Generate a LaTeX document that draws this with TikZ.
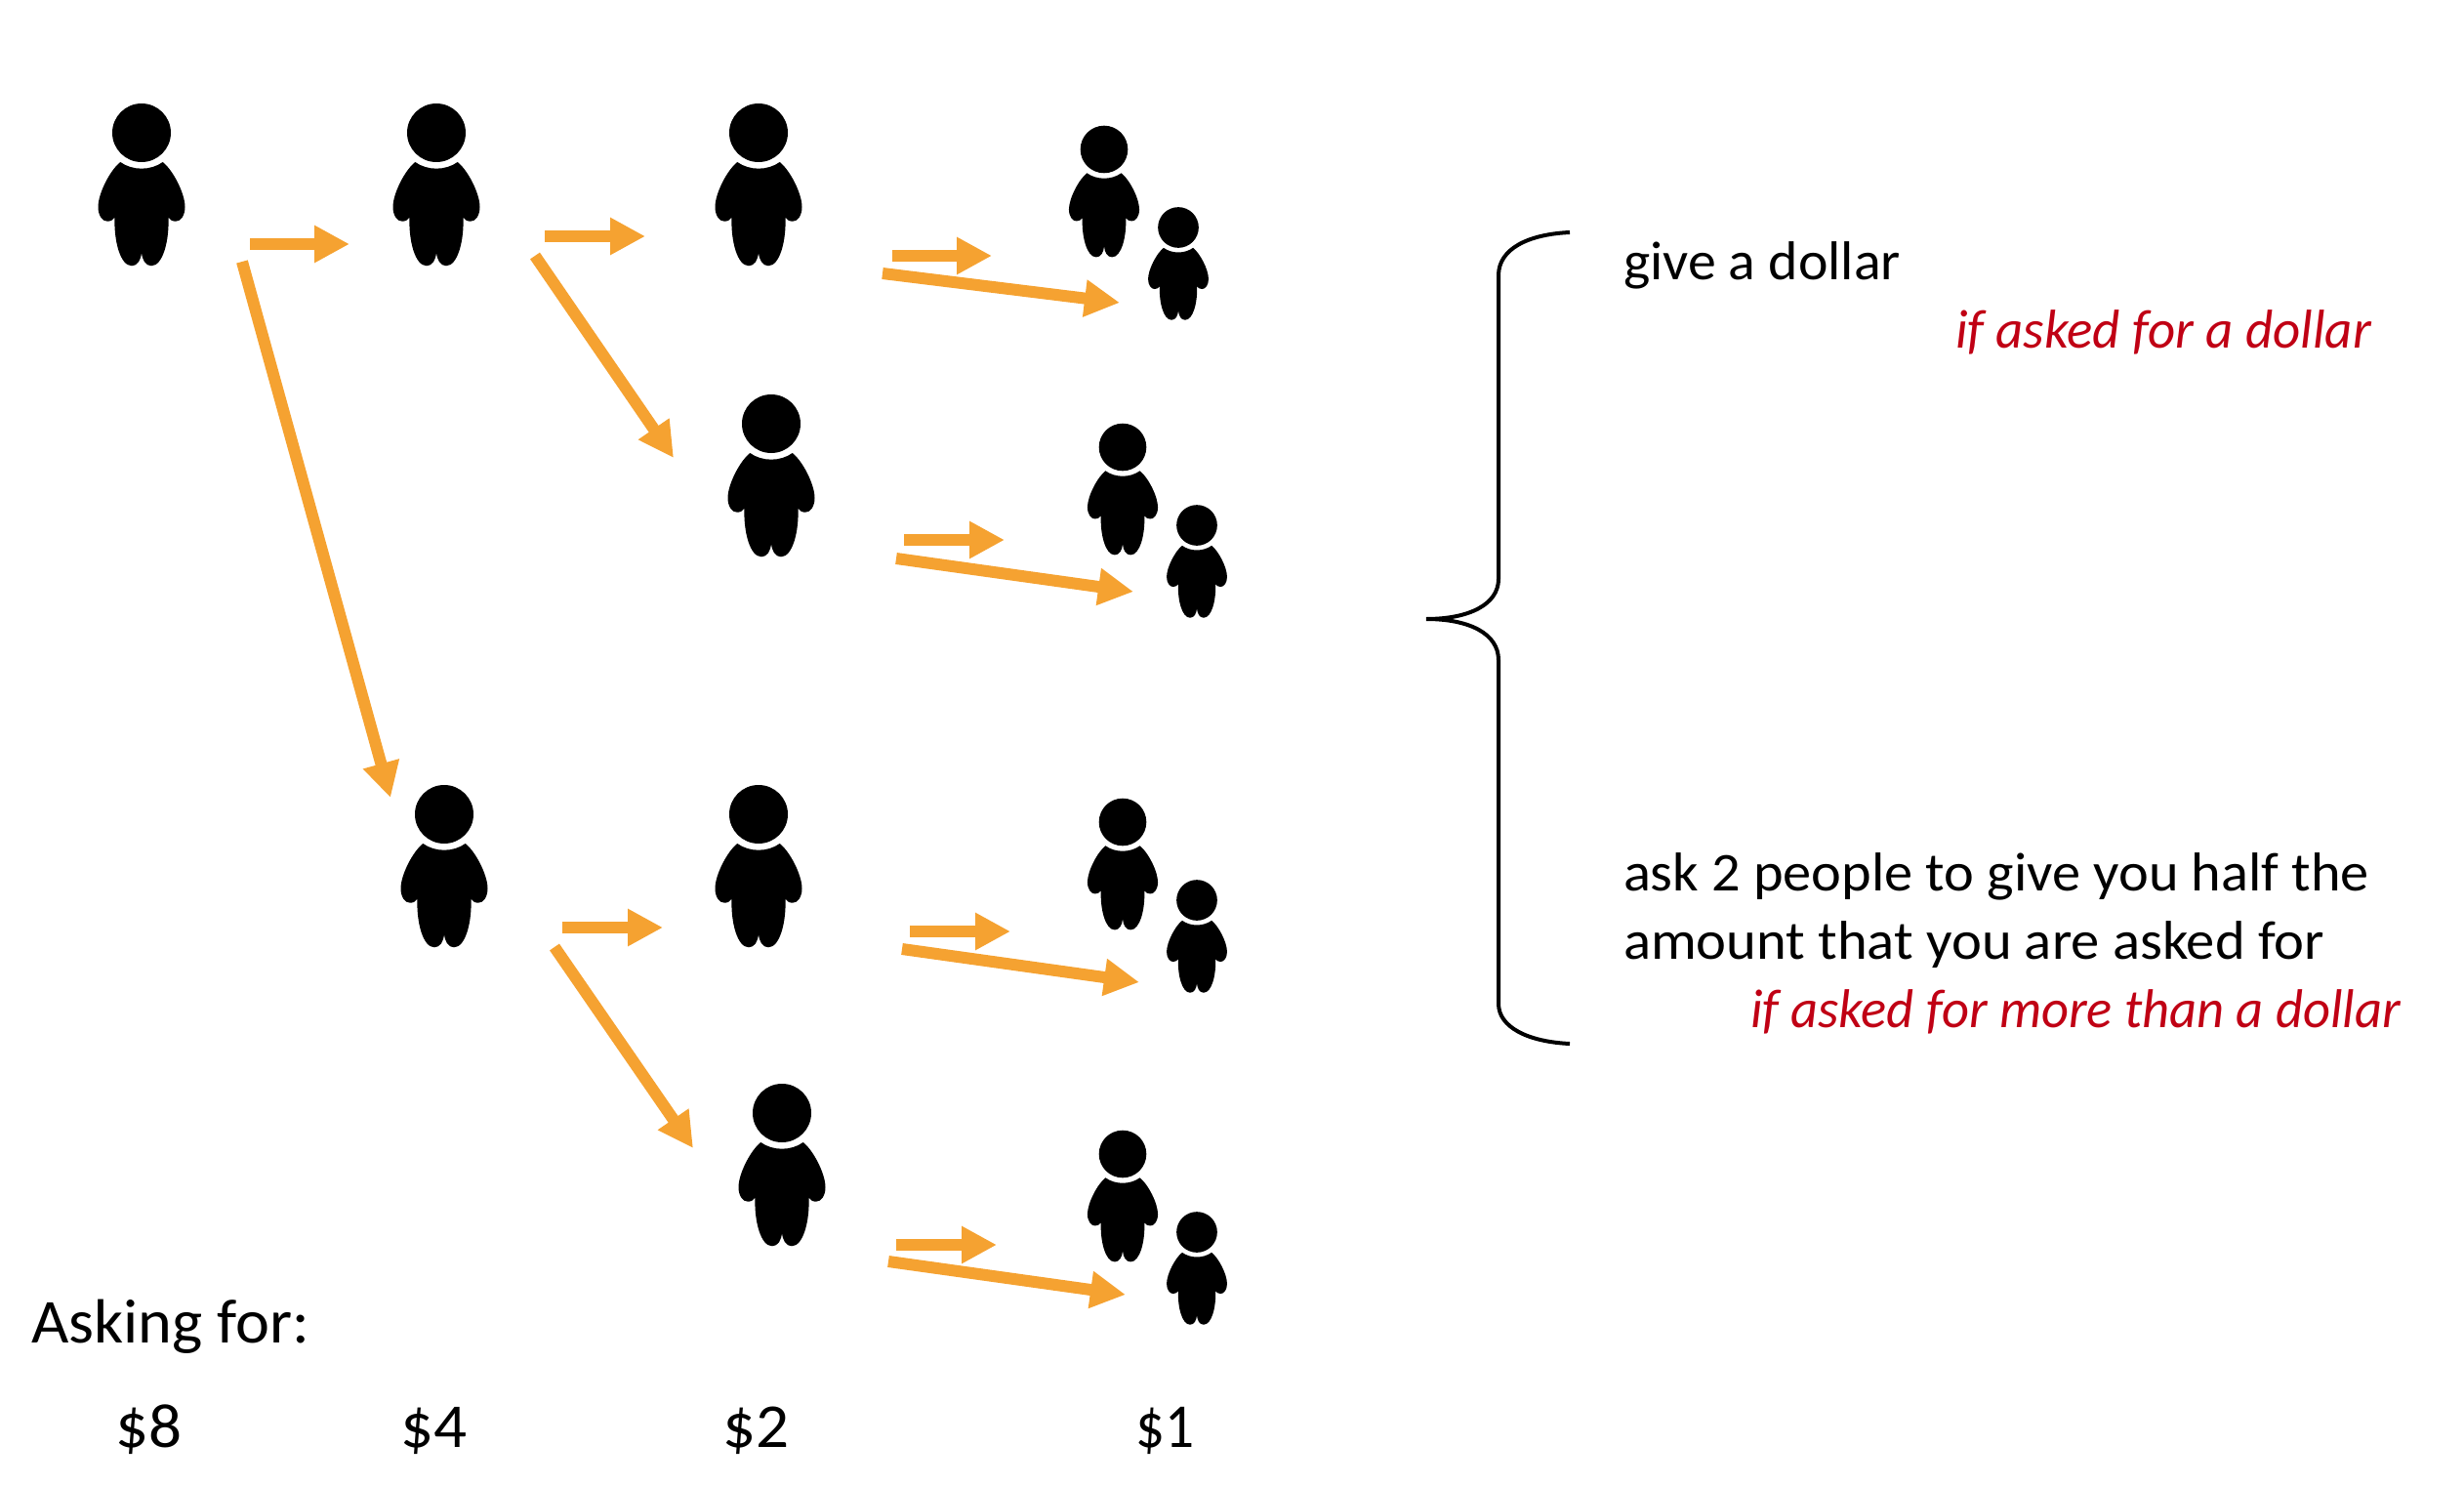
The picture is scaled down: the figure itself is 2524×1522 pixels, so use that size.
\documentclass[tikz,border=0pt]{standalone}
\usepackage{fontspec}
\usepackage{graphicx}
\setmainfont{Carlito}
\usetikzlibrary{arrows.meta}
\definecolor{arrowor}{HTML}{F5A231}
\definecolor{redtxt}{HTML}{C00014}
\newcommand{\fitw}[2]{\resizebox{#1pt}{\height}{#2}}
\tikzset{
  person/.pic={
    \fill[black] (0,0) circle (30);
    \fill[black] (21.7,30) .. controls (32,38) and (44.5,62) .. (44.5,76)
      .. controls (44.5,85) and (40,90.7) .. (35,90.7)
      .. controls (31,90.7) and (29,89) .. (27.5,86.5)
      .. controls (28.5,110) and (22,136.3) .. (10,136.3)
      .. controls (4,136.3) and (0.5,130) .. (0,122.3)
      .. controls (-0.5,130) and (-4,136.3) .. (-10,136.3)
      .. controls (-22,136.3) and (-28.5,110) .. (-27.5,86.5)
      .. controls (-29,89) and (-31,90.7) .. (-35,90.7)
      .. controls (-40,90.7) and (-44.5,85) .. (-44.5,76)
      .. controls (-44.5,62) and (-32,38) .. (-21.7,30)
      .. controls (-9.4,38.9) and (9.4,38.9) .. (21.7,30) -- cycle;
  },
  flow/.style={draw=arrowor, line width=12pt, -{Triangle[length=36pt,width=36pt,fill=arrowor]}},
  brace/.style={draw=black, line width=4pt, line cap=butt},
  label/.style={inner sep=0pt, outer sep=0pt, anchor=base west, font=\fontsize{56}{60}\selectfont},
  bigl/.style={inner sep=0pt, outer sep=0pt, anchor=base west, font=\fontsize{64}{70}\selectfont},
  cond/.style={label, text=redtxt, font=\fontsize{56}{60}\selectfont\itshape}
}
\begin{document}
\begin{tikzpicture}[x=1pt,y=-1pt]
\useasboundingbox (0,0) rectangle (2524,1522);
% people
\pic (p1) at (145,136) {person};
\pic (p2) at (447,136) {person};
\pic (p3) at (777,136) {person};
\pic (p4) at (790,434) {person};
\pic (p5) at (455,834) {person};
\pic (p6) at (777,834) {person};
\pic (p7) at (801,1140) {person};
\pic[scale=0.81] (a1) at (1131,153) {person};
\pic[scale=0.695] (c1) at (1207,233) {person};
\pic[scale=0.81] (a2) at (1150,458) {person};
\pic[scale=0.695] (c2) at (1226,538) {person};
\pic[scale=0.81] (a3) at (1150,842) {person};
\pic[scale=0.695] (c3) at (1226,922) {person};
\pic[scale=0.81] (a4) at (1150,1182) {person};
\pic[scale=0.695] (c4) at (1226,1262) {person};
% connector ends
\coordinate (s1) at (256,250); \coordinate (e1) at (358,250);
\coordinate (s2) at (558,242); \coordinate (e2) at (661,242);
\coordinate (s3) at (548,262); \coordinate (e3) at (690,469);
\coordinate (s4) at (248,268); \coordinate (e4) at (400,817);
\coordinate (s5) at (914,262); \coordinate (e5) at (1016,262);
\coordinate (s6) at (904,280); \coordinate (e6) at (1147,310);
\coordinate (s7) at (926,553); \coordinate (e7) at (1029,553);
\coordinate (s8) at (918,572); \coordinate (e8) at (1161,606);
\coordinate (s9) at (576,950); \coordinate (e9) at (679,950);
\coordinate (s10) at (568,970); \coordinate (e10) at (710,1176);
\coordinate (s11) at (932,954); \coordinate (e11) at (1035,954);
\coordinate (s12) at (924,972); \coordinate (e12) at (1167,1006);
\coordinate (s13) at (918,1275); \coordinate (e13) at (1021,1275);
\coordinate (s14) at (910,1292); \coordinate (e14) at (1153,1326);
\foreach \i in {1,...,14} { \draw[flow] (s\i) -- (e\i); }
% brace
\coordinate (bt) at (1608,238);
\coordinate (bm) at (1461,634);
\coordinate (bb) at (1608,1069);
\draw[brace] (bt) .. controls (1565,240) and (1535,255) .. (1535,282)
  -- (1535,593) .. controls (1535,619) and (1505,634) .. (bm)
  .. controls (1505,634) and (1535,649) .. (1535,676)
  -- (1535,1028) .. controls (1535,1052) and (1565,1067) .. (bb);
% texts
\node[label] (t1) at (1663,287) {\fitw{284}{give a dollar}};
\node[cond] (t2) at (2003,356) {\fitw{426}{if asked for a dollar}};
\node[label] (t3) at (1663,912) {\fitw{764}{ask 2 people to give you half the}};
\node[label] (t4) at (1663,982) {\fitw{718}{amount that you are asked for}};
\node[cond] (t5) at (1793,1052) {\fitw{666}{if asked for more than a dollar}};
\node[bigl] (l0) at (32,1375) {\fitw{285}{Asking for:}};
\node[bigl] (l8) at (118,1482) {\fitw{68}{\$8}};
\node[bigl] (l4) at (410,1482) {\fitw{68}{\$4}};
\node[bigl] (l2) at (740,1482) {\fitw{68}{\$2}};
\node[bigl] (l1) at (1163,1482) {\fitw{60}{\$1}};
\end{tikzpicture}
\end{document}
